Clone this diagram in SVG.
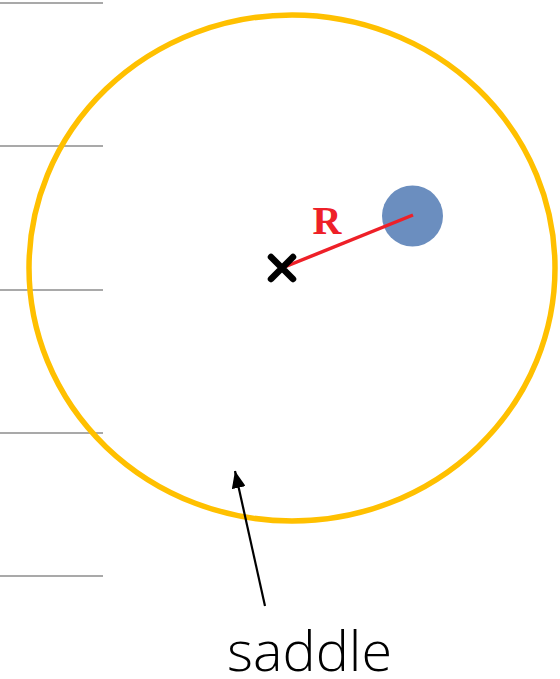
<svg xmlns="http://www.w3.org/2000/svg" width="560" height="679" viewBox="0 0 560 679">
<style>
.rule{stroke:#8c8c8c;stroke-width:1.5}
</style>
<defs>
<marker id="ah" markerWidth="17" markerHeight="14" refX="17" refY="7" orient="auto" markerUnits="userSpaceOnUse" viewBox="0 0 17 14">
<path d="M0,0 L17,7 L0,14 z" fill="#000"/>
</marker>
</defs>
<rect width="560" height="679" fill="#fff"/>
<g id="rules">
<line class="rule" x1="0" y1="3" x2="103" y2="3"/>
<line class="rule" x1="0" y1="146" x2="103" y2="146"/>
<line class="rule" x1="0" y1="290" x2="103" y2="290"/>
<line class="rule" x1="0" y1="433" x2="103" y2="433"/>
<line class="rule" x1="0" y1="576" x2="103" y2="576"/>
</g>
<g id="saddle-ring">
<ellipse cx="292" cy="268" rx="263" ry="253" fill="none" stroke="#FFC000" stroke-width="5.5"/>
</g>
<g id="ball">
<circle cx="412.5" cy="216" r="30.5" fill="#6B8EBF"/>
</g>
<g id="connectors">
<line x1="282" y1="268" x2="413" y2="215" stroke="#EE2028" stroke-width="3.5"/>
<line x1="265" y1="606" x2="235" y2="471" stroke="#000" stroke-width="2.2" marker-end="url(#ah)"/>
</g>
<g id="center">
<path d="M271,257 L293,279 M293,257 L271,279" stroke="#000" stroke-width="6.5" stroke-linecap="round"/>
</g>
<g id="labels">
<text x="309.5" y="671" font-family="Open Sans, Liberation Sans, sans-serif" font-weight="300" font-size="55" fill="#000" text-anchor="middle" textLength="165" lengthAdjust="spacingAndGlyphs">saddle</text>
<text x="327" y="234" font-family="Liberation Serif, serif" font-weight="bold" font-size="40" fill="#EE2028" text-anchor="middle">R</text>
</g>
</svg>
